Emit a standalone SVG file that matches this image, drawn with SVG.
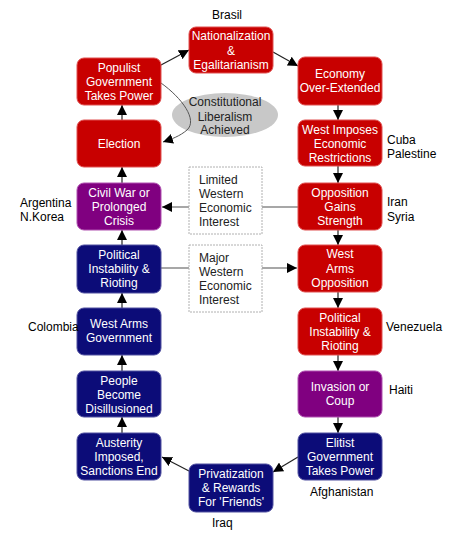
<svg xmlns="http://www.w3.org/2000/svg" width="450" height="540" viewBox="0 0 450 540">
<defs>
<style>
.bx{stroke-width:1;}
.red{fill:#c80000;stroke:#e05050;}
.navy{fill:#0c0c78;stroke:#5050a0;}
.purp{fill:#800080;stroke:#b050b0;}
.t{font-family:"Liberation Sans",Arial,sans-serif;font-size:12px;fill:#fff;text-anchor:middle;}
.lb{font-family:"Liberation Sans",Arial,sans-serif;font-size:12px;fill:#000;}
.gt{font-family:"Liberation Sans",Arial,sans-serif;font-size:12px;fill:#222;}
.ar{fill:none;stroke:#222;stroke-width:1.2;marker-end:url(#ah);}
.gr{fill:none;stroke:#8a8a8a;stroke-width:1.5;marker-end:url(#ah);}
.cv{fill:none;stroke:#555;stroke-width:1;marker-end:url(#ah);}
.info{fill:#fff;stroke:#b0b0b0;stroke-width:1;stroke-dasharray:2,1;}
</style>
<marker id="ah" markerUnits="userSpaceOnUse" markerWidth="10" markerHeight="10" refX="10" refY="5" orient="auto">
<path d="M0,0 L10,5 L0,10 z" fill="#000"/>
</marker>
</defs>
<rect width="450" height="540" fill="#fff"/>

<g id="ellipse">
<ellipse cx="225" cy="115" rx="53" ry="22" fill="#c8c8c8"/>
<text class="gt" x="225" y="106" text-anchor="middle">Constitutional</text>
<text class="gt" x="225" y="121" text-anchor="middle">Liberalism</text>
<text class="gt" x="225" y="134" text-anchor="middle">Achieved</text>
</g>

<g id="connectors">
<path class="ar" d="M161,65 L189,50"/>
<path class="ar" d="M273,52 L298,66"/>
<path class="ar" d="M338,105 L338,120"/>
<path class="ar" d="M338,166 L338,183"/>
<path class="ar" d="M338,230 L338,245"/>
<path class="ar" d="M338,292 L338,308"/>
<path class="ar" d="M338,355 L338,371"/>
<path class="ar" d="M338,417 L338,433"/>
<path class="ar" d="M298,457 L273,472"/>
<path class="ar" d="M189,471 L162,457"/>
<path class="ar" d="M122,433 L122,417"/>
<path class="ar" d="M122,371 L122,355"/>
<path class="ar" d="M122,308 L122,293"/>
<path class="ar" d="M122,245 L122,230"/>
<path class="ar" d="M122,183 L122,167"/>
<path class="ar" d="M122,120 L122,105"/>
<path class="gr" d="M298,207 L162,207"/>
<path class="gr" d="M161,268 L297,268"/>
<path class="cv" d="M161,83 C182,98 198,120 187,130 C180,136 172,139 163,142"/>
</g>

<g id="limited">
<rect class="info" x="189" y="167" width="73" height="67"/>
<text class="gt" x="199" y="184">Limited</text>
<text class="gt" x="199" y="198">Western</text>
<text class="gt" x="199" y="212">Economic</text>
<text class="gt" x="199" y="226">Interest</text>
</g>
<g id="major">
<rect class="info" x="189" y="245" width="73" height="67"/>
<text class="gt" x="199" y="262">Major</text>
<text class="gt" x="199" y="276">Western</text>
<text class="gt" x="199" y="290">Economic</text>
<text class="gt" x="199" y="304">Interest</text>
</g>

<g id="nationalization">
<rect class="bx red" x="189" y="27" width="84" height="46" rx="7"/>
<text class="t" x="231" y="40">Nationalization</text>
<text class="t" x="231" y="55">&amp;</text>
<text class="t" x="231" y="69">Egalitarianism</text>
</g>
<g id="populist">
<rect class="bx red" x="77" y="58" width="84" height="47" rx="7"/>
<text class="t" x="119" y="72">Populist</text>
<text class="t" x="119" y="86">Government</text>
<text class="t" x="119" y="100">Takes Power</text>
</g>
<g id="economy">
<rect class="bx red" x="298" y="57" width="84" height="48" rx="7"/>
<text class="t" x="340" y="78">Economy</text>
<text class="t" x="340" y="92">Over-Extended</text>
</g>
<g id="election">
<rect class="bx red" x="77" y="120" width="84" height="47" rx="7"/>
<text class="t" x="119" y="148">Election</text>
</g>
<g id="west-imposes">
<rect class="bx red" x="298" y="120" width="84" height="46" rx="7"/>
<text class="t" x="340" y="134">West Imposes</text>
<text class="t" x="340" y="148">Economic</text>
<text class="t" x="340" y="162">Restrictions</text>
</g>
<g id="civil-war">
<rect class="bx purp" x="77" y="183" width="84" height="47" rx="7"/>
<text class="t" x="119" y="197">Civil War or</text>
<text class="t" x="119" y="211">Prolonged</text>
<text class="t" x="119" y="225">Crisis</text>
</g>
<g id="opposition">
<rect class="bx red" x="298" y="183" width="84" height="47" rx="7"/>
<text class="t" x="340" y="197">Opposition</text>
<text class="t" x="340" y="211">Gains</text>
<text class="t" x="340" y="225">Strength</text>
</g>
<g id="instability-left">
<rect class="bx navy" x="77" y="245" width="84" height="48" rx="7"/>
<text class="t" x="119" y="259">Political</text>
<text class="t" x="119" y="273">Instability &amp;</text>
<text class="t" x="119" y="287">Rioting</text>
</g>
<g id="west-arms-opposition">
<rect class="bx red" x="298" y="245" width="84" height="47" rx="7"/>
<text class="t" x="340" y="258">West</text>
<text class="t" x="340" y="273">Arms</text>
<text class="t" x="340" y="287">Opposition</text>
</g>
<g id="west-arms-government">
<rect class="bx navy" x="77" y="308" width="84" height="47" rx="7"/>
<text class="t" x="119" y="328">West Arms</text>
<text class="t" x="119" y="342">Government</text>
</g>
<g id="instability-right">
<rect class="bx red" x="298" y="308" width="84" height="47" rx="7"/>
<text class="t" x="340" y="322">Political</text>
<text class="t" x="340" y="336">Instability &amp;</text>
<text class="t" x="340" y="350">Rioting</text>
</g>
<g id="people">
<rect class="bx navy" x="77" y="371" width="84" height="46" rx="7"/>
<text class="t" x="119" y="385">People</text>
<text class="t" x="119" y="399">Become</text>
<text class="t" x="119" y="413">Disillusioned</text>
</g>
<g id="invasion">
<rect class="bx purp" x="298" y="371" width="84" height="46" rx="7"/>
<text class="t" x="340" y="391">Invasion or</text>
<text class="t" x="340" y="405">Coup</text>
</g>
<g id="austerity">
<rect class="bx navy" x="77" y="433" width="84" height="47" rx="7"/>
<text class="t" x="119" y="447">Austerity</text>
<text class="t" x="119" y="461">Imposed,</text>
<text class="t" x="119" y="475">Sanctions End</text>
</g>
<g id="elitist">
<rect class="bx navy" x="298" y="433" width="84" height="47" rx="7"/>
<text class="t" x="340" y="447">Elitist</text>
<text class="t" x="340" y="461">Government</text>
<text class="t" x="340" y="475">Takes Power</text>
</g>
<g id="privatization">
<rect class="bx navy" x="189" y="464" width="84" height="48" rx="7"/>
<text class="t" x="231" y="478">Privatization</text>
<text class="t" x="231" y="492">&amp; Rewards</text>
<text class="t" x="231" y="506">For 'Friends'</text>
</g>

<g id="labels">
<text class="lb" x="227" y="19" text-anchor="middle">Brasil</text>
<text class="lb" x="387" y="144">Cuba</text>
<text class="lb" x="387" y="158">Palestine</text>
<text class="lb" x="387" y="206">Iran</text>
<text class="lb" x="387" y="221">Syria</text>
<text class="lb" x="20" y="207">Argentina</text>
<text class="lb" x="20" y="221">N.Korea</text>
<text class="lb" x="28" y="331">Colombia</text>
<text class="lb" x="386" y="331">Venezuela</text>
<text class="lb" x="389" y="394">Haiti</text>
<text class="lb" x="310" y="496">Afghanistan</text>
<text class="lb" x="212" y="527">Iraq</text>
</g>
</svg>
